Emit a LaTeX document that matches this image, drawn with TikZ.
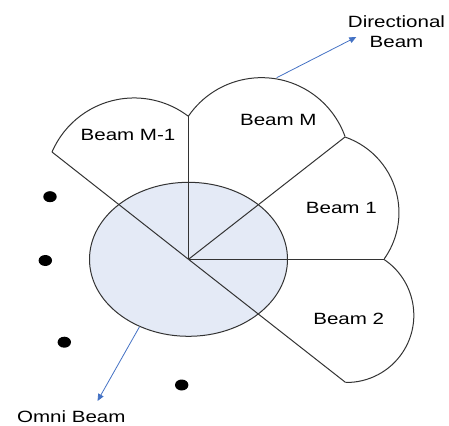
\documentclass[tikz,border=0pt]{standalone}
\usepackage{fontspec}
\setmainfont{Liberation Sans}
\usetikzlibrary{arrows.meta,shapes.geometric}
\definecolor{edge}{HTML}{333333}
\definecolor{omnifill}{HTML}{E4EAF6}
\definecolor{pointer}{HTML}{4472C4}
% labels are set slightly widened
\newcommand{\widetext}[1]{\scalebox{1.26}[1]{#1}}

\begin{document}
\begin{tikzpicture}[x=1pt,y=-1pt,
  outline/.style={draw=edge, line width=1pt},
  lbl/.style={inner sep=0pt, font=\fontsize{16.3}{20.7}\selectfont, text=black, anchor=base},
  pointer/.style={draw=pointer, line width=0.8pt, -{Triangle[length=7pt,width=6pt]}},
  dot/.style={fill=black, draw=none, ellipse, inner sep=0pt, minimum width=13.4pt, minimum height=11pt}]
\useasboundingbox (0,0) rectangle (449,425);

% common apex of the beams and the rim points of the sectors
\coordinate (C)  at (188.5,259.3);
\coordinate (P1) at (52,152);
\coordinate (P2) at (188.5,116);
\coordinate (P3) at (345,137);
\coordinate (P4) at (383.8,259.3);
\coordinate (P5) at (345.5,382.4);

% omni-directional pattern
\node[outline, fill=omnifill, ellipse, inner sep=0pt,
      minimum width=198pt, minimum height=154pt] (omni) at (C) {};

% sector edges
\draw[outline] (C) -- (P1);
\draw[outline] (C) -- (P2);
\draw[outline] (C) -- (P3);
\draw[outline] (C) -- (P4);
\draw[outline] (C) -- (P5);

% beam lobes
\draw[outline] (P1) arc[start angle=-156.7, end angle=-52.9, radius=89.4];
\draw[outline] (P2) arc[start angle=-145.4, end angle=-19.7, radius=88.7];
\draw[outline] (P3) arc[start angle=-71, end angle=35.3, radius=80];
\draw[outline] (P4) arc[start angle=-56.4, end angle=90.9, radius=67.2];

% beam names
\node[lbl] (beamMm) at (128,140) {\widetext{Beam M-1}};
\node[lbl] (beamM)  at (278.3,125) {\widetext{Beam M}};
\node[lbl] (beamA)  at (341.3,213.3) {\widetext{Beam 1}};
\node[lbl] (beamB)  at (348.7,324) {\widetext{Beam 2}};

% callouts (base of a two-line node is its last line)
\node[lbl, align=center] (dirLbl) at (396.5,48) {\widetext{Directional}\\\widetext{Beam}};
\node[lbl] (omniLbl) at (71.3,422.5) {\widetext{Omni Beam}};

\coordinate (dirFrom) at (276.7,77.7);
\coordinate (dirTip)  at (356.3,37);
\coordinate (omniTip) at (97.5,401);
\draw[pointer] (dirFrom) -- (dirTip);
\draw[pointer] (omni.-126.7) -- (omniTip);

% further beams, not drawn
\node[dot] (d1) at (50,196.7) {};
\node[dot] (d2) at (45.3,260.5) {};
\node[dot] (d3) at (64.3,342.2) {};
\node[dot] (d4) at (181.7,385) {};
\end{tikzpicture}
\end{document}
